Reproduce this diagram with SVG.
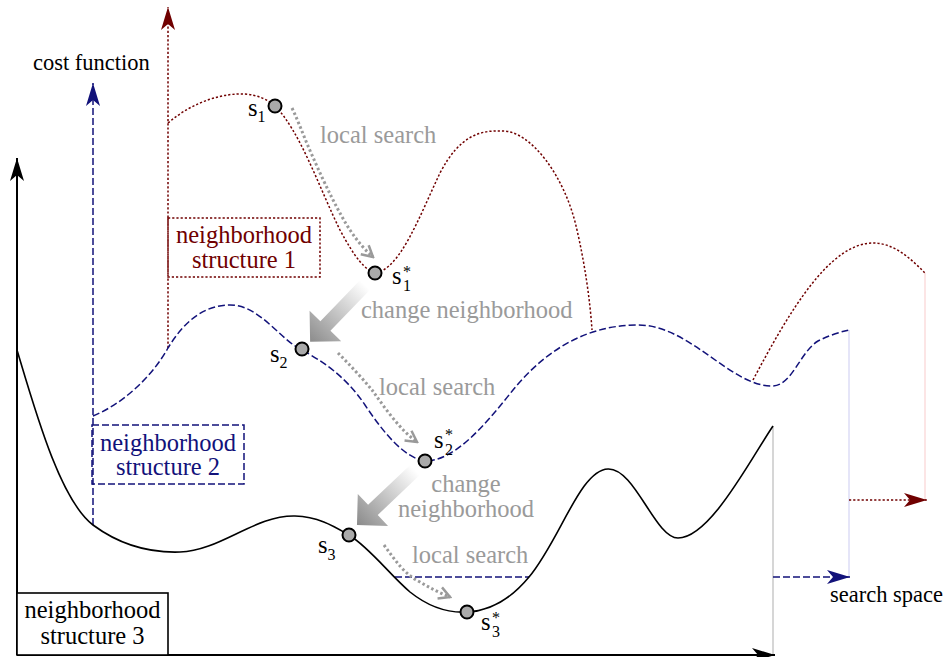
<svg xmlns="http://www.w3.org/2000/svg" width="947" height="657" viewBox="0 0 947 657" font-family="'Liberation Serif', 'DejaVu Serif', serif">
<style>
text{font-family:'Liberation Serif','DejaVu Serif',serif}
.lbl{font-size:24.5px}
.ax{font-size:22.5px;fill:#000}
.gray{fill:#9a9a9a}
.red{fill:#700000}
.blue{fill:#12127a}
.sub{font-size:16px}
.rd{fill:none;stroke:#700000;stroke-width:1.5;stroke-dasharray:2.2 2}
.bd{fill:none;stroke:#12127a;stroke-width:1.5;stroke-dasharray:7 3}
.bk{fill:none;stroke:#000;stroke-width:1.6}
.ls{fill:none;stroke:#9a9a9a;stroke-width:3;stroke-dasharray:2.5 2.5;marker-end:url(#mg)}
.pt{fill:#aaaaaa;stroke:#000;stroke-width:2}
</style>
<defs>
<marker id="mk" viewBox="-24 -8 26 16" refX="0" refY="0" markerWidth="26" markerHeight="16" markerUnits="userSpaceOnUse" orient="auto"><path d="M0,0 L-23,-7 L-17,0 L-23,7 Z" fill="#000"/></marker>
<marker id="mb" viewBox="-24 -8 26 16" refX="0" refY="0" markerWidth="26" markerHeight="16" markerUnits="userSpaceOnUse" orient="auto"><path d="M0,0 L-23,-7 L-17,0 L-23,7 Z" fill="#12127a"/></marker>
<marker id="mr" viewBox="-24 -8 26 16" refX="0" refY="0" markerWidth="26" markerHeight="16" markerUnits="userSpaceOnUse" orient="auto"><path d="M0,0 L-23,-7 L-17,0 L-23,7 Z" fill="#700000"/></marker>
<marker id="mg" viewBox="-14 -8 16 16" refX="0" refY="0" markerWidth="16" markerHeight="16" markerUnits="userSpaceOnUse" orient="auto"><path d="M-11,-6 L0,0 L-11,6" fill="none" stroke="#9a9a9a" stroke-width="2.5" stroke-dasharray="none"/></marker>
<linearGradient id="gr" gradientUnits="userSpaceOnUse" x1="0" y1="0" x2="80" y2="0"><stop offset="0" stop-color="#ffffff"/><stop offset="1" stop-color="#8a8a8a"/></linearGradient>
</defs>

<g id="guides">
<line x1="773" y1="426" x2="773" y2="655" stroke="#bbbbbb" stroke-width="1.2"/>
<line x1="849" y1="330" x2="849" y2="577" stroke="#dcdcf6" stroke-width="1.5"/>
<line x1="925" y1="273" x2="925" y2="500" stroke="#fbdcdc" stroke-width="1.5"/>
</g>

<g id="connectors">
<line x1="17" y1="655" x2="17" y2="158" stroke="#000" stroke-width="2" marker-end="url(#mk)"/>
<line x1="17" y1="655" x2="775" y2="655" stroke="#000" stroke-width="2" marker-end="url(#mk)"/>
<line x1="93" y1="525" x2="93" y2="83" class="bd" marker-end="url(#mb)"/>
<line x1="395" y1="577" x2="529" y2="577" class="bd"/>
<line x1="773" y1="577" x2="850" y2="577" class="bd" marker-end="url(#mb)"/>
<line x1="168" y1="348" x2="168" y2="7" class="rd" marker-end="url(#mr)"/>
<line x1="849" y1="500" x2="927" y2="500" class="rd" marker-end="url(#mr)"/>

<path class="bk" d="M17,350 C35,410 60,500 93,525 C120,545 150,553 180,552 C220,551 255,515 295,516 C320,517 335,527 349,535 C370,548 390,575 410,592 C430,608 450,613 467,612 C490,611 510,600 529,577 C560,540 580,470 608,469 C635,468 655,538 678,538 C710,538 750,460 773,426"/>
<path class="bd" d="M93,416 C120,405 150,380 168,348 C185,320 205,305 230,305 C260,305 280,340 302,350 C320,360 345,375 365,405 C385,435 405,458 425,461 C455,461 485,425 513,390 C540,357 580,325 638,325 C690,325 730,386 772,386 C792,386 800,352 818,341 C830,335 840,332 849,330"/>
<path class="rd" d="M168,123 C195,100 225,93 245,94 C258,95 268,100 274,105 C300,130 320,190 340,230 C355,258 365,270 375,273 C400,270 420,215 440,173 C460,135 480,130 503,131 C530,131 565,175 577,230 C585,265 590,300 592,330"/>
<path class="rd" d="M753,380 C790,310 830,243 873,243 C895,243 912,260 925,273"/>

<path class="ls" d="M292,108 C300,125 305,140 312,155 C325,185 340,215 350,230 C358,242 365,250 373,257"/>
<path class="ls" d="M338,353 C350,365 362,378 372,390 C385,408 400,430 417,442"/>
<path class="ls" d="M384,545 C395,560 405,575 420,582 C430,588 440,593 450,597"/>

<polygon transform="translate(365,285) rotate(134)" fill="url(#gr)" points="0,-7 57,-7 57,-22 79,0 57,22 57,7 0,7"/>
<polygon transform="translate(415,470) rotate(136.5)" fill="url(#gr)" points="0,-7 58,-7 58,-22 80,0 58,22 58,7 0,7"/>
</g>

<g id="box1">
<rect x="168" y="218" width="152" height="59" fill="#fff" class="rd"/>
<text class="lbl red" x="244" y="243" text-anchor="middle">neighborhood</text>
<text class="lbl red" x="244" y="268" text-anchor="middle">structure 1</text>
</g>
<g id="box2">
<rect x="92" y="425" width="152" height="59" fill="#fff" class="bd"/>
<text class="lbl blue" x="168" y="451" text-anchor="middle">neighborhood</text>
<text class="lbl blue" x="168" y="475" text-anchor="middle">structure 2</text>
</g>
<g id="box3">
<rect x="17" y="593" width="151" height="62" fill="#fff" stroke="#000" stroke-width="1.6"/>
<text class="lbl" x="92.5" y="618" text-anchor="middle">neighborhood</text>
<text class="lbl" x="92.5" y="644" text-anchor="middle">structure 3</text>
</g>

<g id="s1"><circle class="pt" cx="275" cy="106" r="6.5"/><text class="lbl" x="248" y="116">s<tspan class="sub" dy="6">1</tspan></text></g>
<g id="s1star"><circle class="pt" cx="375" cy="273" r="6.5"/><text class="lbl" x="392" y="284">s<tspan class="sub" x="403" dy="7">1</tspan><tspan class="sub" x="403" dy="-14">*</tspan></text></g>
<g id="s2"><circle class="pt" cx="302" cy="349" r="6.5"/><text class="lbl" x="270" y="362">s<tspan class="sub" dy="6">2</tspan></text></g>
<g id="s2star"><circle class="pt" cx="425" cy="461" r="6.5"/><text class="lbl" x="434" y="448">s<tspan class="sub" x="445" dy="7">2</tspan><tspan class="sub" x="445" dy="-15">*</tspan></text></g>
<g id="s3"><circle class="pt" cx="349" cy="535" r="6.5"/><text class="lbl" x="318" y="553">s<tspan class="sub" dy="7">3</tspan></text></g>
<g id="s3star"><circle class="pt" cx="467" cy="612" r="6.5"/><text class="lbl" x="481" y="630">s<tspan class="sub" x="492" dy="7">3</tspan><tspan class="sub" x="492" dy="-14">*</tspan></text></g>

<g id="labels">
<text class="ax" x="33" y="70">cost function</text>
<text class="ax" x="830" y="602">search space</text>
<text class="lbl gray" x="320" y="143">local search</text>
<text class="lbl gray" x="361" y="318">change neighborhood</text>
<text class="lbl gray" x="379" y="395">local search</text>
<text class="lbl gray" x="466" y="492" text-anchor="middle">change</text>
<text class="lbl gray" x="466" y="517" text-anchor="middle">neighborhood</text>
<text class="lbl gray" x="412" y="563">local search</text>
</g>
</svg>
